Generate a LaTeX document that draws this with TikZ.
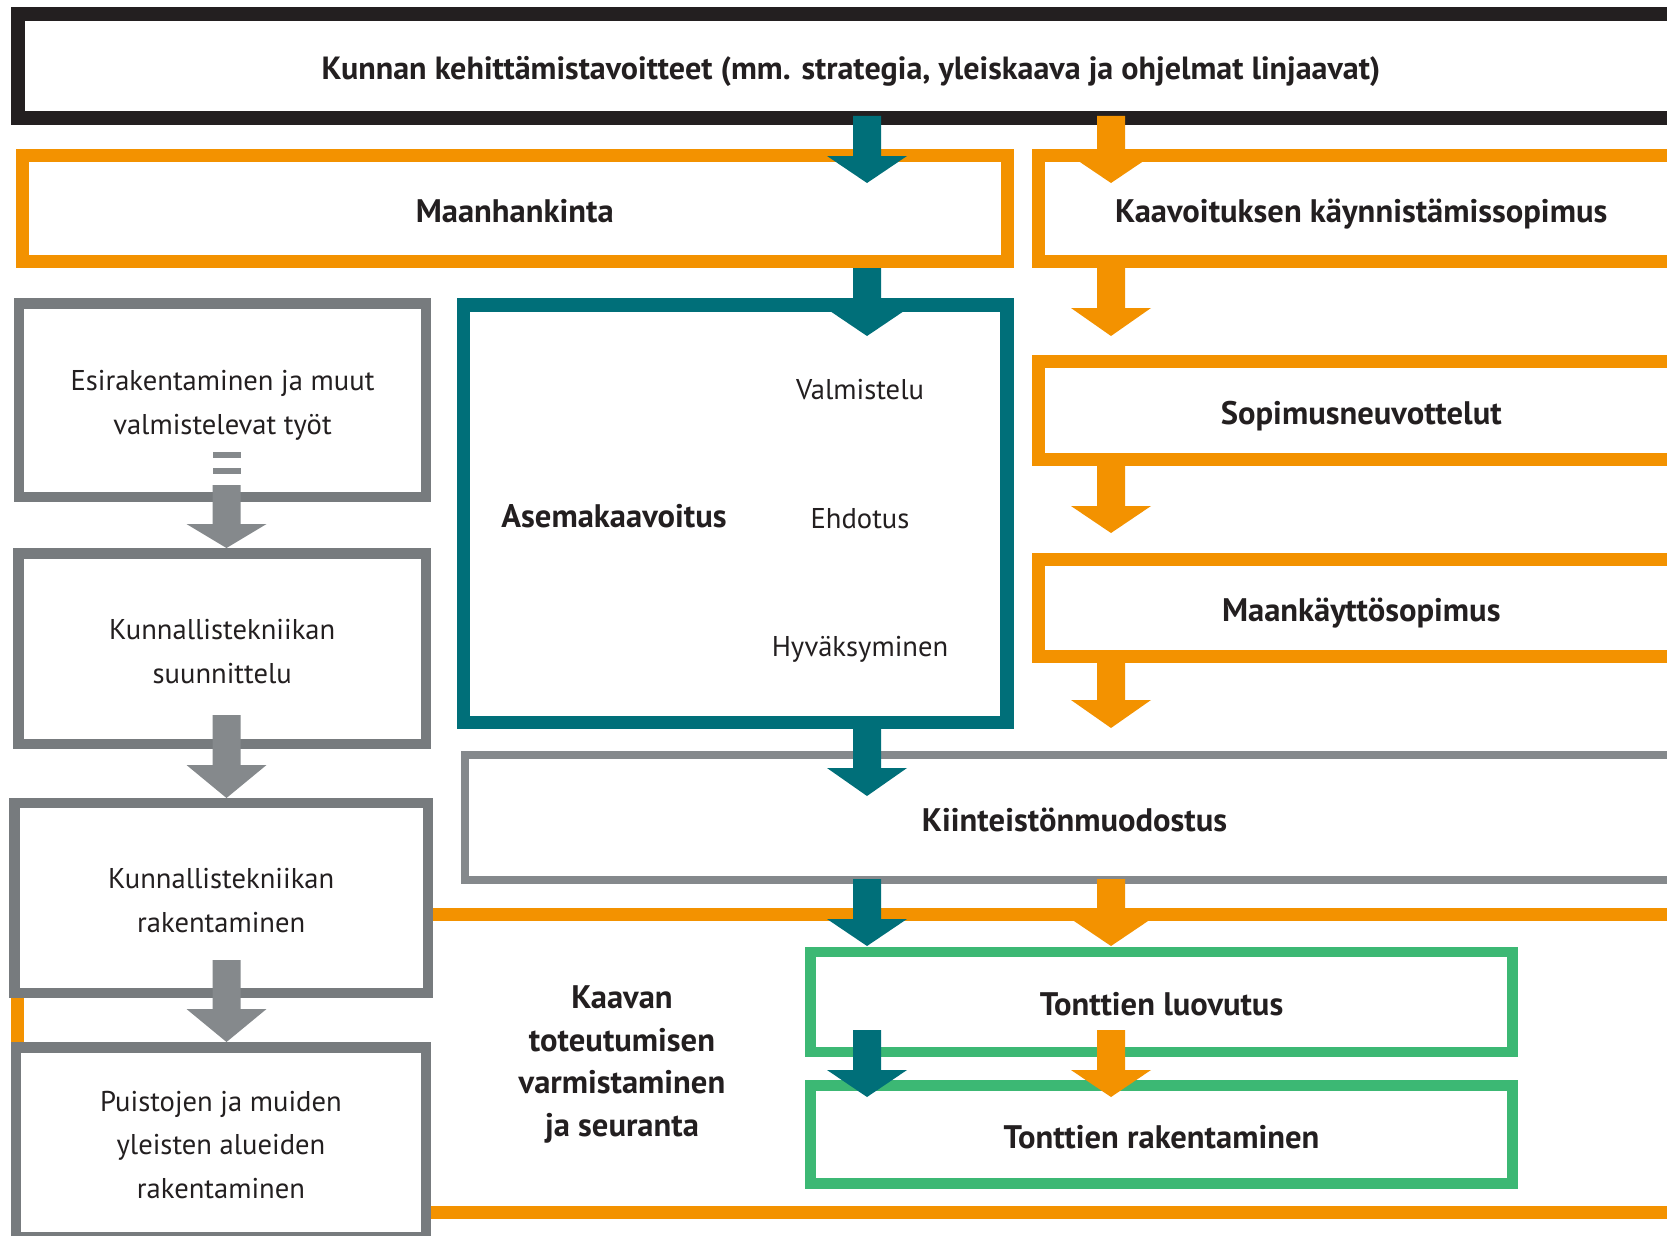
\documentclass[tikz,border=0pt]{standalone}
\usepackage{fontspec}
\setmainfont{PT Sans}
\definecolor{kblack}{HTML}{231F20}
\definecolor{korange}{HTML}{F39200}
\definecolor{kteal}{HTML}{006F79}
\definecolor{kgray}{HTML}{777B7E}
\definecolor{kgrayl}{HTML}{85898C}
\definecolor{kgreen}{HTML}{3CB874}
\tikzset{
  box/.style={draw, fill=white, rectangle, inner sep=0pt, text=kblack, align=center},
  bigtxt/.style={font=\fontsize{32.6}{42.5}\selectfont\bfseries, text=kblack},
  onel/.style={text height=27.7pt, text depth=0pt},
  smalltxt/.style={font=\fontsize{28.6}{43.6}\selectfont, text=kblack},
}
% block arrow: colour, centre x, y start, y head top, y tip
\newcommand\blockarrow[5]{%
  \fill[#1] (#2-14,#3) -- (#2-14,#4) -- (#2-40,#4) -- (#2,#5) -- (#2+40,#4) -- (#2+14,#4) -- (#2+14,#3) -- cycle;}
\begin{document}
\begin{tikzpicture}[x=1pt,y=-1pt]
\useasboundingbox (0,0) rectangle (1667,1236);
\clip (0,0) rectangle (1667,1236);
\fill[white] (0,0) rectangle (1667,1236);
% top row
\node[box, draw=kblack, line width=13.5pt, minimum width=1666pt, minimum height=104pt, bigtxt, font=\fontsize{32.1}{42.5}\selectfont\bfseries, onel] (kunta) at (851,66)
  {Kunnan kehittämistavoitteet (mm. strategia, yleiskaava ja ohjelmat linjaavat)};
\node[box, draw=korange, line width=13pt, minimum width=984.5pt, minimum height=106pt, bigtxt, onel] (maan) at (514.75,208.5) {Maanhankinta};
\node[box, draw=korange, line width=13pt, minimum width=645.5pt, minimum height=106pt, bigtxt, onel] (kaav) at (1361.25,208.5) {Kaavoituksen käynnistämissopimus};
\node[box, draw=korange, line width=13pt, minimum width=645.5pt, minimum height=97.5pt, bigtxt, onel] (sopi) at (1361.25,410.25) {Sopimusneuvottelut};
\node[box, draw=korange, line width=13pt, minimum width=645.5pt, minimum height=97.5pt, bigtxt, onel] (maank) at (1361.25,607.75) {Maankäyttösopimus};
% asemakaavoitus
\node[box, draw=kteal, line width=13.5pt, minimum width=543.5pt, minimum height=417.5pt] (asema) at (735.25,513.75) {};
\node[bigtxt, anchor=mid] (asemat) at (614,524.5) {Asemakaavoitus};
\node[smalltxt, anchor=mid] (valm) at (860,397) {Valmistelu};
\node[smalltxt, anchor=mid] (ehd) at (860,525.5) {Ehdotus};
\node[smalltxt, anchor=mid] (hyv) at (860,653.5) {Hyväksyminen};
% big orange frame
\node[draw=korange, line width=13pt, minimum width=1666.5pt, minimum height=298pt, inner sep=0pt] (toteut) at (850.75,1063.5) {};
\node[bigtxt, align=center] (toteutt) at (622,1064.5) {Kaavan\\toteutumisen\\varmistaminen\\ja seuranta};
% grey column
\node[box, draw=kgray, line width=10.5pt, minimum width=407pt, minimum height=193.5pt] (esir) at (222.5,400.25) {};
\node[smalltxt, align=center] (esirt) at (222.5,405.5) {Esirakentaminen ja muut\\valmistelevat työt};
\node[box, draw=kgray, line width=10.5pt, minimum width=407.5pt, minimum height=190.5pt] (kuns) at (222.25,648.75) {};
\node[smalltxt, align=center] (kunst) at (222.25,651.5) {Kunnallistekniikan\\suunnittelu};
\node[box, draw=kgray, line width=10.5pt, minimum width=413.5pt, minimum height=190pt] (kunr) at (221.25,898) {};
\node[smalltxt, align=center] (kunrt) at (221.25,900.5) {Kunnallistekniikan\\rakentaminen};
\node[box, draw=kgray, line width=10.5pt, minimum width=410pt, minimum height=189.5pt] (puis) at (221,1142.25) {};
\node[smalltxt, align=center] (puist) at (221,1145) {Puistojen ja muiden\\yleisten alueiden\\rakentaminen};
% kiinteistonmuodostus
\node[box, draw=kgrayl, line width=8pt, minimum width=1219pt, minimum height=125pt, bigtxt, onel] (kiin) at (1074.5,817.5) {Kiinteistönmuodostus};
% green boxes
\node[box, draw=kgreen, line width=10.5pt, minimum width=702pt, minimum height=100pt, bigtxt, onel] (tluo) at (1161.5,1002) {Tonttien luovutus};
\node[box, draw=kgreen, line width=10.5pt, minimum width=702pt, minimum height=98pt, bigtxt, onel] (trak) at (1161.5,1134.5) {Tonttien rakentaminen};
% teal arrows
\blockarrow{kteal}{867}{116}{156}{183}
\blockarrow{kteal}{867}{268}{309}{336}
\blockarrow{kteal}{867}{729}{768}{796}
\blockarrow{kteal}{867}{879}{919}{946}
\blockarrow{kteal}{867}{1030}{1070}{1097}
% orange arrows
\blockarrow{korange}{1111}{116}{156}{183}
\blockarrow{korange}{1111}{268}{308}{336}
\blockarrow{korange}{1111}{466}{506}{533}
\blockarrow{korange}{1111}{663}{700}{728}
\blockarrow{korange}{1111}{879}{919}{946}
\blockarrow{korange}{1111}{1030}{1070}{1097}
% grey arrows
\fill[kgrayl] (212.5,452) rectangle (241,457.5);
\fill[kgrayl] (212.5,468) rectangle (241,474);
\blockarrow{kgrayl}{226.5}{485}{524}{548}
\blockarrow{kgrayl}{226.5}{715}{765}{798}
\blockarrow{kgrayl}{226.5}{960}{1009}{1042}
\end{tikzpicture}
\end{document}
